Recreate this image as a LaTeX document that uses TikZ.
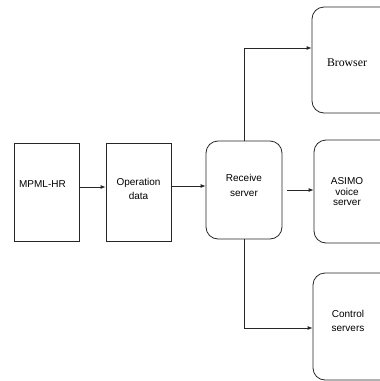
\documentclass[tikz,border=0pt]{standalone}
\usepackage{fontspec}
\setmainfont{Liberation Serif}
\setsansfont{Liberation Sans}
\usetikzlibrary{arrows.meta}
\begin{document}
\begin{tikzpicture}[x=1pt,y=-1pt,
  block/.style={draw=black!85,line width=0.8pt,inner sep=0pt},
  sqblock/.style={block},
  rblock/.style={block,rounded corners=12pt},
  lbl/.style={font=\sffamily\fontsize{10}{14.5}\selectfont,align=center,inner sep=0pt},
  serlbl/.style={font=\rmfamily\fontsize{11.8}{14}\selectfont,align=center,inner sep=0pt},
  conn/.style={draw=black!85,line width=0.8pt,-{Latex[length=5pt,width=4pt]}}]
\useasboundingbox (0,0) rectangle (380,381);
\clip (0,0) rectangle (380,381);
% square blocks
\node[sqblock,minimum width=65pt,minimum height=98pt] (mpml) at (46.5,192) {};
\node[sqblock,minimum width=65pt,minimum height=98pt] (oper) at (138.5,192) {};
% rounded blocks
\node[rblock,minimum width=76pt,minimum height=98pt] (recv) at (244,190) {};
\node[rblock,minimum width=80pt,minimum height=106pt] (brow) at (352,60) {};
\node[rblock,minimum width=80pt,minimum height=103pt] (asimo) at (354,191.5) {};
\node[rblock,minimum width=80pt,minimum height=107pt] (ctrl) at (353,326.5) {};
% labels
\node[lbl] (tmpml) at (42.5,184) {MPML-HR};
\node[lbl] (toper) at (138.5,189) {Operation\\data};
\node[lbl] (trecv) at (244,185.5) {Receive\\server};
\node[lbl,font=\sffamily\fontsize{10}{10.5}\selectfont] (tasimo) at (347,192) {ASIMO\\voice\\server};
\node[serlbl] (tbrow) at (347,63) {Browser};
\node[lbl] (tctrl) at (348,321) {Control\\servers};
% connectors
\coordinate (bend1) at (recv.north |- 0,48);
\coordinate (bend2) at (recv.south |- 0,328);
\draw[conn] (mpml.east |- 0,187) -- (oper.west |- 0,187);
\draw[conn] (oper.east |- 0,186) -- (recv.west |- 0,186);
\draw[conn] (recv.east |- 0,190) ++(5,0) -- (asimo.west |- 0,190);
\draw[conn] (recv.north) -- (bend1) -- (brow.west |- bend1);
\draw[conn] (recv.south) -- (bend2) -- (ctrl.west |- bend2);
\end{tikzpicture}
\end{document}
